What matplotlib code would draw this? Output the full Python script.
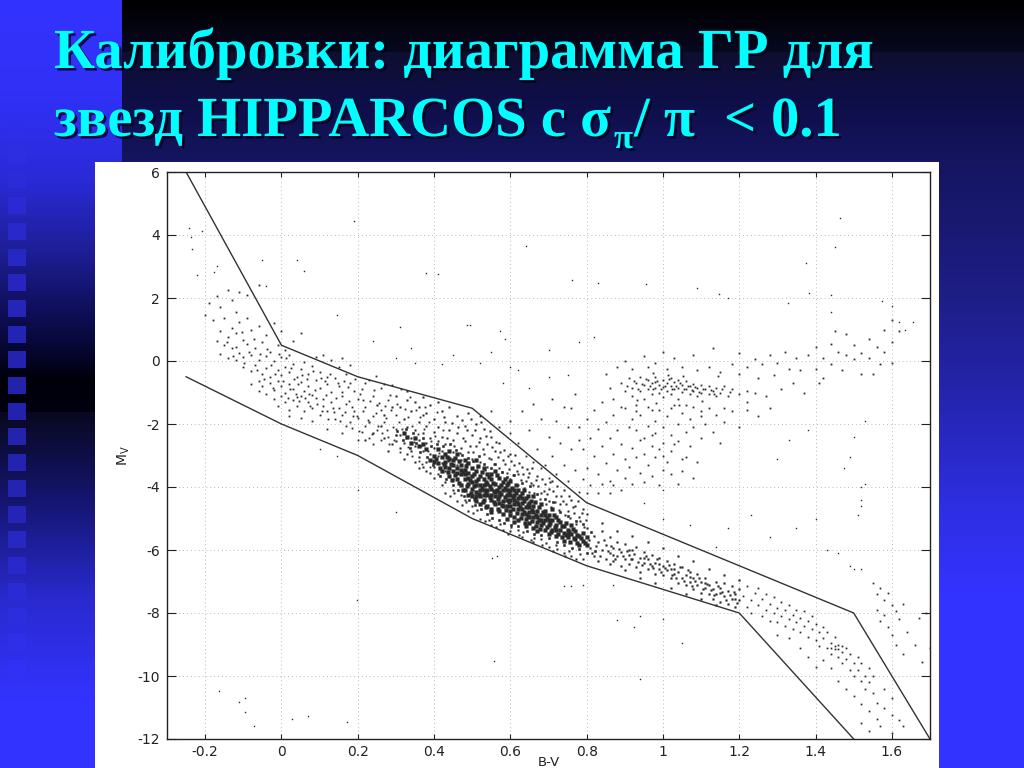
import numpy as np
import matplotlib
matplotlib.use('Agg')
import matplotlib.pyplot as plt
import matplotlib.patheffects as pe
from matplotlib.patches import Rectangle

plt.rcParams['axes.unicode_minus'] = False

# boundary lines of the selection
upper_x = [-0.25, 0, 0.2, 0.5, 0.8, 1.5, 1.7]
upper_y = [6, 0.5, -0.5, -1.5, -4.5, -8, -12]
lower_x = [-0.25, 0, 0.2, 0.5, 0.8, 1.2, 1.5]
lower_y = [-0.5, -2, -3, -5, -6.5, -8, -12]

x_ticks = [-0.2, 0, 0.2, 0.4, 0.6, 0.8, 1, 1.2, 1.4, 1.6]
x_tick_labels = ['-0.2', '0', '0.2', '0.4', '0.6', '0.8', '1', '1.2', '1.4', '1.6']
y_ticks = [6, 4, 2, 0, -2, -4, -6, -8, -10, -12]

# stars, by region
strays = [(-.243,4.22),(-.238,3.94),(-.209,4.13),(-.235,3.56),(-.222,2.73),(-.17,3.02),(-.177,2.83),(-.05,3.2),(.04,3.2),
    (.06,2.86),(-.04,2.38),(.19,4.44),(.145,1.46),(.31,1.08),(.38,2.79),(.41,2.76),(.487,1.14),(.495,1.15),(.573,.95),(.585,.7),
    (.64,3.65),(.762,2.57),(.83,2.47),(.955,2.44),(1.09,2.33),(1.148,2.12),(1.17,2.0),(1.374,3.1),(1.45,3.62),(1.464,4.54),
    (1.382,2.15),(1.44,2.1),(1.327,1.84),(1.44,1.55),(1.6,1.75),(1.575,1.9),(1.62,1.24),(1.655,1.24),(1.634,.99),
    (-.164,-10.48),(-.096,-10.7),(-.112,-10.83),(-.096,-11.15),(-.071,-11.6),(.027,-11.36),(.07,-11.27),(.171,-11.46),
    (.556,-9.53),(.2,-4.1),(.198,-7.58),(.3,-4.8),(.552,-6.26),(.565,-6.2),(.1,-2.8),(.145,-3.0),(1.05,-8.95),(.925,-8.45),
    (.94,-10.1),(.88,-8.22),(.74,-7.15),(.76,-7.15),(.79,-7.1),(.87,-7.1),(1.0,-8.2),(.94,-8.1),(1.49,-6.5),(1.5,-6.6),
    (1.49,-3.05),(1.475,-3.4),(1.518,-4.0),(1.53,-3.9),(1.52,-4.4),(1.518,-4.6),(1.51,-4.9),(1.3,-3.1),(1.23,-4.9),
    (1.35,-5.3),(1.4,-5.0),(1.17,-5.3),(1.0,-5.0),(.95,-4.5),(1.0,-4.1),(1.14,-5.9),(1.07,-5.2),(1.28,-5.6),(1.43,-6.0),
    (1.46,-6.1),(1.52,-6.6),(.34,.42),(.24,.62),(.3,.1),(.45,.2),(.55,.3),(.52,-.05),(.6,-.2),(.7,.35),(.78,.6),(.82,.75),
    (.7,-.5),(.65,-.85),(.58,-.7),(.35,-.05),(.42,-.1),(.62,-.3),(.75,-.45),(1.5,-2.4),(1.53,-1.9),(1.38,-2.2),(1.33,-2.5)]

hot_branch = [(-.19,1.85),(-.17,2.05),(-.16,1.7),(-.14,2.25),(-.13,1.95),(-.11,2.2),(-.09,2.1),(-.12,1.55),(-.06,2.4),(-.2,1.45),
    (-.18,1.3),(-.15,1.35),(-.13,1.05),(-.11,1.25),(-.09,1.38),(-.16,.95),(-.14,.75),(-.17,.62),(-.15,.5),(-.12,.88),(-.1,.68),
    (-.08,.98),(-.06,1.1),(-.04,.82),(-.02,1.22),(.0,.95),(-.13,.4),(-.11,.25),(-.09,.55),(-.07,.42),(-.05,.6),(-.03,.3),(-.01,.52),
    (.01,.35),(.03,.62),(.05,.9),(-.16,.22),(-.14,.08),(-.12,.02),(-.1,.14),(-.08,.2),(-.06,.04),(-.04,.15),(-.02,.0),(.0,.12),(.02,.2),
    (-.1,-.2),(-.08,-.32),(-.07,-.12),(-.05,-.4),(-.04,-.22),(-.03,-.5),(-.01,-.3),(.0,-.45),(.01,-.18),(.02,-.35),(.03,-.08),(.04,-.52),
    (.05,-.25),(.06,-.02),(.07,-.42),(.08,-.15),(.09,.12),(.1,-.35),(.11,.2),(.13,.02),(.15,-.18),(.12,-.5),(.16,.1),(.18,-.12),
    (-.06,-.62),(-.05,-.8),(-.03,-.7),(-.02,-.92),(-.01,-.65),(.0,-.8),(.01,-1.02),(.02,-.72),(.03,-.9),(.04,-1.15),(.05,-.68),(.06,-.95),
    (.07,-.78),(.08,-1.08),(.09,-.6),(.1,-.85),(.11,-1.2),(.12,-.72),(.13,-.98),(.14,-.55),(.15,-.8),(.16,-1.1),(.17,-.4),(.18,-.7),
    (.19,-.95),(-.04,-1.05),(-.02,-1.2),(-.01,-1.42),(.0,-1.12),(.01,-1.3),(.02,-1.55),(.03,-1.25),(.04,-1.42),(.05,-1.1),(.06,-1.6),
    (.07,-1.3),(.08,-1.5),(.09,-1.18),(.1,-1.72),(.11,-1.42),(.12,-1.6),(.13,-1.3),(.14,-1.85),(.15,-1.5),(.16,-1.7),(.17,-1.35),
    (.18,-1.95),(.19,-1.6),(.2,-1.8),(.2,-1.2),(.21,-.9),(.22,-2.05),(.22,-1.45),(.23,-.6),(.24,-1.75),(.24,-1.1),(.25,-2.2),(.26,-.85),
    (.26,-1.55),(.27,-1.95),(.28,-1.25),(.28,-2.4),(.29,-.75),(.3,-1.7),(.3,-2.15),(.02,-1.75),(.05,-1.82),(.08,-1.9),(.12,-2.15),
    (.16,-2.3),(.2,-2.5),(.24,-2.62),(.21,-2.25),(.26,-2.5),(-.08,-.72),(-.06,-.95),(.17,-2.05)]

hot_extra = [(-.143,.613),(-.127,.172),(-.118,.457),(-.104,.931),(-.097,-.053),(-.086,.296),(-.073,.687),(-.064,-.271),(-.057,.213),
    (-.046,-.583),(-.039,.378),(-.027,-.137),(-.018,-.417),(-.007,.223),(.004,-.633),(.013,.083),(.022,-.877),(.026,-.213),(.034,-.567),
    (.043,-.733),(.047,-1.283),(.055,-.437),(.063,-1.183),(.068,-.583),(.076,-1.437),(.083,-.333),(.087,-.923),(.094,-1.363),(.103,-.527),
    (.107,-1.573),(.116,-1.087),(.123,-1.833),(.127,-.417),(.134,-1.483),(.143,-1.187),(.147,-.683),(.153,-1.913),(.158,-.973),(.166,-1.623),
    (.174,-.827),(.177,-1.283),(.184,-2.137),(.186,-1.463),(.193,-.583),(.197,-1.743),(.203,-2.213),(.207,-1.037),(.214,-1.583),(.218,-.683),
    (.226,-1.887),(.233,-1.263),(.237,-2.327),(.243,-.933),(.247,-1.663),(.253,-2.053),(.257,-1.337),(.263,-2.287),(.268,-.723),(.274,-1.813),
    (.277,-2.183),(.284,-1.073),(.287,-1.563),(.292,-2.083),(.296,-2.513),(.303,-1.353),(.307,-1.927),(.313,-.887),(.316,-2.173),(.323,-1.533),
    (.327,-2.433),(.332,-1.767),(.337,-1.133),(.343,-2.063),(.347,-2.563),(.353,-1.543),(.357,-2.313),(.363,-1.783),(.367,-2.713),(.373,-2.163),
    (.377,-1.473),(.383,-2.853),(.387,-1.943),(.393,-2.533),(.397,-3.137),(.403,-2.383),(.407,-1.627),(.413,-2.933),(.417,-3.473),(.423,-2.183),
    (-.023,-.863),(.017,-1.183),(.039,-1.033),(.073,-1.033),(.113,-.623),(.137,-1.633),(.163,-.623),(.187,-1.733),(.213,-1.253),(.229,-2.433),
    (.249,-.483),(.271,-1.433),(.301,-2.363),(.331,-2.733),(.361,-3.163),(.281,-2.637),(.311,-2.883),(.341,-3.013),(.369,-3.263),(.389,-3.373)]

upper_ms = [(.3,-1.1),(.31,-1.45),(.31,-2.35),(.32,-1.85),(.32,-2.6),(.33,-.95),(.33,-2.1),(.34,-1.6),(.34,-2.45),(.34,-2.85),
    (.35,-1.3),(.35,-2.2),(.35,-2.7),(.36,-1.95),(.36,-2.5),(.36,-3.05),(.37,-1.15),(.37,-1.7),(.37,-2.3),(.37,-2.85),(.38,-2.05),
    (.38,-2.6),(.38,-3.2),(.39,-1.4),(.39,-2.45),(.39,-2.95),(.4,-1.85),(.4,-2.25),(.4,-2.75),(.4,-3.35),(.3,-2.55),(.31,-2.75),
    (.32,-3.1),(.33,-2.95),(.35,-3.2),(.37,-3.35),(.39,-3.55),(.3,-2.35),(.29,-2.65),(.28,-2.85),(.27,-2.45),(.26,-2.05),(.25,-1.4),
    (.24,-2.3),(.23,-1.95),(.22,-2.5),(.27,-1.7),(.29,-1.45),(.33,-1.25),(.36,-1.45),(.38,-1.65),(.41,-1.3),(.41,-2.1),(.41,-2.55),
    (.41,-3.0),(.41,-3.6),(.42,-1.6),(.42,-2.4),(.42,-2.85),(.42,-3.25),(.43,-1.95),(.43,-2.65),(.43,-3.5),(.43,-3.85),(.44,-1.45),
    (.44,-2.2),(.44,-3.05),(.45,-2.5),(.45,-2.9),(.45,-3.75),(.45,-4.1),(.46,-1.75),(.46,-2.3),(.46,-3.3),(.47,-2.75),(.47,-3.15),
    (.47,-4.25),(.48,-2.05),(.48,-2.55),(.48,-4.4),(.49,-1.65),(.49,-2.9),(.5,-2.35),(.5,-3.1),(.5,-4.6),(.51,-2.0),(.51,-2.7),
    (.52,-2.45),(.52,-3.2),(.53,-2.15),(.53,-2.95),(.54,-2.65),(.54,-3.35),(.55,-2.4),(.55,-3.1),(.56,-2.85),(.57,-2.6),(.57,-3.4),
    (.58,-3.15),(.59,-3.55),(.6,-2.95),(.6,-3.75),(.61,-3.3),(.62,-3.6),(.62,-3.95),(.63,-3.35),(.64,-3.8),(.65,-3.55),(.65,-4.15),
    (.66,-3.95),(.67,-3.65),(.68,-4.2),(.69,-3.9),(.7,-4.45),(.7,-4.05),(.71,-3.8),(.72,-4.3),(.73,-4.55),(.74,-4.1),(.75,-4.75),
    (.76,-4.4),(.77,-4.6),(.78,-4.95),(.79,-4.7),(.8,-4.85),(.43,-4.2),(.46,-4.45),(.49,-4.75),(.52,-5.0),(.55,-5.2),(.58,-5.35),
    (.42,-3.95),(.4,-3.7),(.38,-3.5),(.36,-3.4),(.6,-5.4),(.63,-5.6),(.66,-5.75),(.7,-5.9),(.74,-6.1),(.62,-5.35),(.68,-5.65),
    (.72,-5.85),(.76,-6.2),(.79,-6.3)]

upper_extra = [(.427,-1.783),(.433,-2.433),(.437,-3.183),(.447,-1.983),(.453,-2.683),(.457,-3.563),(.463,-2.083),(.467,-2.933),(.473,-1.883),
    (.477,-2.433),(.483,-3.283),(.487,-2.183),(.493,-2.683),(.497,-1.833),(.503,-2.883),(.507,-2.183),(.513,-3.373),(.517,-2.583),(.523,-1.933),
    (.527,-2.783),(.533,-3.463),(.537,-2.383),(.543,-3.083),(.547,-2.213),(.553,-2.733),(.557,-3.283),(.563,-2.583),(.567,-3.033),(.573,-2.883),
    (.577,-3.533),(.583,-2.833),(.587,-3.283),(.593,-3.013),(.597,-3.433),(.603,-3.183),(.607,-3.613),(.613,-2.983),(.617,-3.483),(.623,-3.233),
    (.627,-3.783),(.633,-3.583),(.637,-4.033),(.643,-3.433),(.647,-3.683),(.653,-3.883),(.657,-3.383),(.663,-4.183),(.667,-3.783),(.673,-3.983),
    (.677,-4.383),(.683,-3.733),(.687,-4.133),(.693,-4.533),(.697,-4.233),(.703,-3.833),(.707,-4.633),(.713,-4.133),(.717,-4.483),(.723,-3.983),
    (.727,-4.733),(.733,-4.283),(.737,-4.433),(.743,-4.883),(.747,-4.533),(.753,-4.283),(.757,-4.983),(.763,-4.633),(.767,-4.833),(.773,-5.183),
    (.777,-4.433),(.783,-5.083),(.787,-4.833),(.793,-5.283),(.797,-5.033),(.443,-4.283),(.473,-4.583),(.503,-4.833),(.533,-5.083),(.563,-5.283),
    (.593,-5.483),(.623,-5.533),(.653,-5.683),(.683,-5.833),(.713,-6.033),(.743,-6.183),(.773,-6.283),(.453,-4.183),(.483,-4.483),(.513,-4.733),
    (.543,-5.033),(.573,-5.183),(.603,-5.283),(.633,-5.433),(.663,-5.633),(.693,-5.783),(.723,-5.983),(.753,-6.033),(.783,-6.133)]

core = [(.4,-3.0),(.41,-3.25),(.42,-3.05),(.42,-3.5),(.43,-3.2),(.43,-2.95),(.44,-3.4),(.44,-3.65),(.44,-2.85),(.45,-3.15),(.45,-3.5),
    (.46,-3.75),(.46,-2.95),(.46,-3.4),(.47,-3.6),(.47,-3.95),(.47,-3.3),(.48,-3.15),(.48,-3.75),(.48,-4.1),(.48,-3.45),(.49,-3.55),
    (.49,-3.9),(.49,-4.25),(.49,-3.25),(.5,-3.65),(.5,-4.05),(.5,-3.4),(.5,-4.3),(.51,-3.8),(.51,-3.5),(.51,-4.15),(.51,-4.45),(.51,-3.15),
    (.52,-3.95),(.52,-3.65),(.52,-4.3),(.52,-4.55),(.53,-3.75),(.53,-4.1),(.53,-3.4),(.53,-4.4),(.54,-3.9),(.54,-4.25),(.54,-3.6),
    (.54,-4.6),(.55,-4.05),(.55,-3.75),(.55,-4.4),(.55,-4.7),(.56,-3.5),(.56,-4.15),(.56,-3.9),(.56,-4.55),(.57,-4.3),(.57,-3.7),
    (.57,-4.0),(.57,-4.75),(.58,-4.45),(.58,-4.1),(.58,-3.85),(.58,-4.85),(.59,-4.25),(.59,-4.6),(.59,-3.95),(.59,-5.0),(.6,-4.4),
    (.6,-4.1),(.6,-4.75),(.6,-3.8),(.61,-4.55),(.61,-4.25),(.61,-4.95),(.61,-5.1),(.62,-4.35),(.62,-4.7),(.62,-4.1),(.62,-5.05),
    (.63,-4.5),(.63,-4.85),(.63,-4.2),(.64,-4.65),(.64,-5.0),(.64,-4.35),(.64,-5.25),(.65,-4.8),(.65,-4.5),(.65,-5.15),(.66,-4.95),
    (.66,-4.6),(.66,-5.3),(.66,-4.3),(.67,-4.75),(.67,-5.1),(.67,-5.4),(.68,-4.9),(.68,-5.2),(.68,-4.55),(.69,-5.05),(.69,-5.35),
    (.69,-4.75),(.7,-5.2),(.7,-4.9),(.7,-5.5),(.71,-5.05),(.71,-5.35),(.71,-4.7),(.72,-5.2),(.72,-5.55),(.72,-4.95),(.73,-5.35),
    (.73,-5.1),(.74,-5.45),(.74,-5.25),(.74,-5.7),(.75,-5.35),(.75,-5.6),(.76,-5.5),(.76,-5.2),(.77,-5.65),(.77,-5.4),(.78,-5.55),
    (.78,-5.85),(.79,-5.7),(.79,-5.45),(.8,-5.85),(.8,-5.6),(.44,-3.1),(.45,-3.3),(.47,-3.45),(.48,-3.6),(.5,-3.85),(.52,-4.1),
    (.54,-4.1),(.56,-4.3),(.58,-4.6),(.6,-4.6),(.62,-4.55),(.64,-4.85),(.66,-4.8),(.46,-3.55),(.53,-3.95),(.55,-4.25),(.59,-4.4),
    (.61,-4.4),(.63,-4.7),(.65,-4.65),(.67,-4.95),(.69,-4.9),(.43,-3.35),(.49,-3.7),(.51,-3.95),(.57,-4.15),(.6,-4.25),(.65,-4.95),
    (.68,-5.05),(.7,-5.05),(.72,-5.35),(.75,-5.5),(.51,-4.3),(.53,-4.25),(.55,-3.6),(.57,-4.5),(.59,-4.1),(.61,-4.1),(.63,-4.35),
    (.38,-2.8),(.39,-3.15),(.37,-2.65),(.36,-2.7),(.35,-2.45),(.34,-2.6),(.33,-2.4),(.32,-2.3),(.41,-2.8),(.4,-3.2)]

core_extra = [(.405,-3.117),(.415,-3.383),(.425,-3.283),(.435,-3.033),(.436,-3.533),(.445,-3.283),(.447,-3.767),(.455,-3.633),(.456,-3.083),
    (.465,-3.183),(.466,-3.867),(.475,-3.533),(.476,-4.083),(.485,-3.333),(.486,-3.983),(.495,-3.783),(.496,-4.183),(.505,-3.583),(.506,-3.983),
    (.507,-4.383),(.515,-3.333),(.516,-3.733),(.517,-4.233),(.525,-3.533),(.526,-4.033),(.527,-4.483),(.535,-3.833),(.536,-4.183),(.537,-4.633),
    (.545,-3.683),(.546,-3.983),(.547,-4.333),(.548,-4.783),(.555,-3.883),(.556,-4.133),(.557,-4.483),(.565,-3.633),(.566,-4.083),(.567,-4.383),
    (.568,-4.683),(.575,-3.933),(.576,-4.233),(.577,-4.583),(.585,-3.733),(.586,-4.033),(.587,-4.333),(.588,-4.733),(.595,-3.883),(.596,-4.183),
    (.597,-4.483),(.598,-4.883),(.605,-4.033),(.606,-4.333),(.607,-4.683),(.615,-3.933),(.616,-4.183),(.617,-4.483),(.618,-4.833),(.625,-4.283),
    (.626,-4.633),(.627,-4.983),(.635,-4.083),(.636,-4.433),(.637,-4.783),(.638,-5.133),(.645,-4.283),(.646,-4.583),(.647,-4.933),(.655,-4.433),
    (.656,-4.733),(.657,-5.083),(.665,-4.483),(.666,-4.883),(.667,-5.233),(.675,-4.633),(.676,-5.033),(.677,-5.333),(.685,-4.783),(.686,-5.133),
    (.695,-4.983),(.696,-5.283),(.705,-5.133),(.706,-5.433),(.715,-4.883),(.716,-5.283),(.725,-5.033),(.726,-5.483),(.735,-5.233),(.736,-5.583),
    (.745,-5.133),(.746,-5.533),(.755,-5.433),(.756,-5.733),(.765,-5.333),(.766,-5.633),(.775,-5.533),(.776,-5.783),(.785,-5.633),(.795,-5.783)]

# looser edge of the dense band, above and below the ridge
core_edge = [(.303,-2.233),(.318,-2.513),(.326,-2.167),(.338,-2.747),(.344,-2.287),(.352,-2.613),(.364,-2.893),(.372,-2.447),(.381,-3.053),
    (.392,-2.693),(.398,-3.287),(.409,-2.637),(.416,-3.653),(.424,-2.703),(.431,-3.733),(.441,-2.633),(.449,-3.927),(.458,-2.813),(.462,-4.103),
    (.472,-2.983),(.479,-4.283),(.488,-3.083),(.491,-4.403),(.501,-3.183),(.508,-4.583),(.519,-3.013),(.523,-4.693),(.531,-3.283),(.539,-4.853),
    (.549,-3.383),(.553,-4.973),(.561,-3.283),(.569,-5.033),(.579,-3.533),(.583,-5.133),(.591,-3.683),(.601,-5.193),(.609,-3.633),(.621,-5.253),
    (.631,-3.883),(.643,-5.383),(.651,-3.983),(.661,-5.483),(.671,-4.233),(.681,-5.533),(.691,-4.383),(.701,-5.633),(.711,-4.483),(.721,-5.733),
    (.731,-4.783),(.741,-5.833),(.751,-4.933),(.761,-5.933),(.771,-5.083),(.781,-5.983),(.791,-5.183),(.801,-6.083),(.811,-5.433),(.821,-6.033)]

cool_ms = [(.8,-5.3),(.81,-5.95),(.82,-5.55),(.82,-6.2),(.83,-5.75),(.84,-6.0),(.84,-5.4),(.85,-6.3),(.85,-5.85),(.86,-6.1),(.86,-5.6),
    (.87,-6.35),(.87,-5.95),(.88,-6.2),(.88,-5.75),(.89,-6.05),(.89,-6.5),(.9,-6.3),(.9,-5.8),(.91,-6.15),(.91,-6.45),(.92,-6.0),
    (.92,-6.3),(.93,-6.55),(.93,-5.9),(.94,-6.25),(.94,-6.7),(.95,-6.4),(.95,-6.05),(.96,-6.6),(.96,-6.3),(.97,-6.5),(.97,-6.15),
    (.98,-6.75),(.98,-6.4),(.99,-6.6),(.99,-6.25),(1.0,-6.8),(1.0,-6.5),(1.01,-6.65),(1.01,-6.35),(1.02,-6.9),(1.02,-6.6),(1.03,-6.75),
    (1.03,-6.45),(1.04,-7.05),(1.04,-6.7),(1.05,-6.9),(1.05,-6.55),(1.06,-7.1),(1.06,-6.8),(1.07,-7.0),(1.07,-6.7),(1.08,-7.25),
    (1.08,-6.9),(1.09,-7.1),(1.09,-6.75),(1.1,-7.35),(1.1,-7.0),(1.11,-7.2),(1.11,-6.9),(1.12,-7.4),(1.12,-7.1),(1.13,-7.55),
    (1.13,-7.25),(1.14,-7.0),(1.14,-7.4),(1.15,-7.65),(1.15,-7.2),(1.16,-7.45),(1.16,-7.05),(1.17,-7.7),(1.17,-7.3),(1.18,-7.55),
    (1.18,-7.15),(1.19,-7.8),(1.19,-7.4),(1.2,-7.6),(1.2,-7.25),(.83,-6.35),(.86,-6.45),(.9,-6.65),(.94,-6.9),(.98,-7.05),(1.02,-7.2),
    (1.06,-7.4),(1.1,-7.55),(1.14,-7.75),(.84,-5.15),(.88,-5.4),(.92,-5.55),(.96,-5.75),(1.0,-5.95),(1.04,-6.2),(1.08,-6.35),(1.12,-6.6),
    (1.16,-6.8),(1.2,-6.95),(.87,-6.15),(.91,-6.0),(.95,-6.25),(.99,-6.45),(1.03,-6.6),(1.07,-6.85),(1.11,-7.05),(1.15,-7.35),(1.19,-7.55),
    (.805,-5.683),(.815,-6.083),(.825,-5.883),(.835,-6.183),(.845,-5.683),(.855,-6.033),(.865,-5.883),(.875,-6.283),(.885,-5.983),(.895,-6.183),
    (.905,-6.033),(.915,-6.283),(.925,-6.133),(.935,-6.383),(.945,-6.483),(.955,-6.183),(.965,-6.433),(.975,-6.583),(.985,-6.283),(.995,-6.683),
    (1.005,-6.583),(1.015,-6.483),(1.025,-6.783),(1.035,-6.883),(1.045,-6.533),(1.055,-6.983),(1.065,-6.633),(1.075,-7.133),(1.085,-6.983),
    (1.095,-6.883),(1.105,-7.233),(1.115,-7.083),(1.125,-7.283),(1.135,-7.433),(1.145,-7.133),(1.155,-7.333),(1.165,-7.583),(1.175,-7.433),
    (1.185,-7.333),(1.195,-7.683)]

cool_dwarfs = [(1.21,-7.45),(1.22,-7.8),(1.22,-7.15),(1.23,-7.6),(1.23,-8.0),(1.24,-7.35),(1.25,-7.75),(1.25,-7.2),(1.26,-8.1),(1.26,-7.55),
    (1.27,-7.9),(1.27,-7.4),(1.28,-7.7),(1.28,-8.25),(1.29,-8.0),(1.29,-7.5),(1.3,-7.85),(1.3,-8.3),(1.31,-8.1),(1.31,-7.65),(1.32,-8.4),
    (1.32,-7.9),(1.33,-8.2),(1.33,-7.75),(1.34,-8.5),(1.34,-8.05),(1.35,-8.3),(1.35,-7.9),(1.36,-8.6),(1.36,-8.15),(1.37,-8.4),(1.37,-7.95),
    (1.38,-8.75),(1.38,-8.25),(1.39,-8.5),(1.39,-8.1),(1.4,-8.85),(1.4,-8.35),(1.41,-8.6),(1.41,-9.05),(1.42,-8.45),(1.42,-8.8),(1.43,-9.1),
    (1.43,-8.6),(1.44,-8.95),(1.44,-9.3),(1.45,-8.75),(1.45,-9.15),(1.46,-9.4),(1.46,-9.0),(1.47,-9.25),(1.47,-9.6),(1.48,-9.1),(1.48,-9.45),
    (1.49,-9.8),(1.49,-9.3),(1.5,-9.6),(1.5,-10.0),(1.51,-9.4),(1.51,-9.8),(1.52,-10.15),(1.52,-9.6),(1.53,-10.0),(1.53,-10.4),(1.54,-9.75),
    (1.54,-10.2),(1.55,-10.55),(1.55,-10.0),(1.42,-9.5),(1.44,-9.75),(1.46,-10.15),(1.48,-10.4),(1.5,-10.65),(1.52,-10.9),(1.54,-11.1),
    (1.56,-10.85),(1.56,-11.35),(1.58,-11.0),(1.58,-10.4),(1.6,-11.25),(1.6,-10.7),(1.62,-11.4),(1.52,-11.5),(1.54,-11.75),(1.57,-11.6),
    (1.6,-11.8),(1.63,-11.6),(1.38,-9.4),(1.36,-9.1),(1.33,-8.8),(1.3,-8.7),(1.4,-9.7),(1.44,-9.1),(1.45,-9.05),(1.46,-9.15),(1.47,-9.05),
    (1.55,-7.05),(1.56,-7.4),(1.56,-7.9),(1.57,-7.2),(1.57,-8.25),(1.58,-7.6),(1.58,-8.05),(1.59,-7.35),(1.59,-8.45),(1.6,-7.75),(1.6,-8.7),
    (1.61,-7.95),(1.61,-9.0),(1.62,-8.2),(1.63,-7.7),(1.63,-9.3),(1.64,-8.6),(1.66,-9.0),(1.67,-8.15),(1.68,-9.55),(1.7,-9.1),(1.69,-8.0)]

giants = [(.89,-.7),(.9,-.95),(.91,-.55),(.92,-.85),(.92,-1.1),(.93,-.7),(.94,-.5),(.94,-.95),(.95,-.75),(.95,-1.2),(.96,-.6),(.96,-.9),
    (.97,-.7),(.97,-1.05),(.98,-.5),(.98,-.85),(.98,-.68),(.99,-.75),(.99,-1.0),(1.0,-.6),(1.0,-.82),(1.0,-1.15),(1.01,-.7),(1.01,-.95),
    (1.02,-.55),(1.02,-.78),(1.02,-1.05),(1.03,-.68),(1.03,-.9),(1.04,-.6),(1.04,-.85),(1.04,-1.2),(1.05,-.75),(1.05,-.98),(1.06,-.65),
    (1.06,-.88),(1.07,-.8),(1.07,-1.05),(1.08,-.72),(1.08,-.95),(1.09,-.85),(1.09,-1.1),(1.1,-.75),(1.1,-1.0),(1.11,-.9),(1.12,-1.05),
    (1.12,-.8),(1.13,-.95),(1.14,-1.1),(1.14,-.85),(1.15,-1.0),(1.16,-.78),(1.17,-1.1),(1.18,-.9),(1.2,-1.05),(1.22,-.95),(1.24,-1.0),
    (.85,-.4),(.86,-.85),(.87,-1.2),(.88,-.2),(.9,.0),(.92,-.25),(.93,-1.4),(.95,.15),(.96,-.2),(.97,-1.55),(.98,-.05),(1.0,.3),(1.01,-.25),
    (1.02,-1.5),(1.03,.1),(1.05,-.2),(1.06,-1.4),(1.08,.2),(1.09,-.3),(1.1,-1.6),(1.12,-.2),(1.13,.4),(1.15,-.35),(1.16,-1.5),(1.18,-.1),
    (1.2,.25),(1.2,-.4),(1.22,-.2),(1.22,-1.3),(1.24,.05),(1.25,-.55),(1.26,-.1),(1.27,-1.1),(1.28,.2),(1.29,-.45),(1.3,-.05),(1.31,-.9),
    (1.32,.3),(1.33,-.25),(1.34,-.7),(1.35,.1),(1.36,-.3),(1.37,-1.0),(1.38,.2),(1.4,.45),(1.4,-.25),(1.42,.1),(1.42,-.55),(1.44,.55),(1.44,-.1),
    (1.46,.3),(1.47,-.3),(1.48,.85),(1.5,.5),(1.5,.05),(1.52,.25),(1.52,-.4),(1.54,.7),(1.54,.1),(1.56,.45),(1.57,-.1),(1.58,1.0),(1.58,.3),
    (1.6,.6),(1.6,-.05),(1.6,1.3),(1.62,.95),(1.45,.95),(1.48,.2),(1.41,-.7),(1.55,-.4),
    (.9,-1.5),(.92,-1.85),(.93,-2.2),(.94,-1.7),(.95,-2.45),(.96,-2.05),(.96,-1.45),(.97,-2.7),(.98,-1.9),(.98,-2.3),(.99,-1.55),(1.0,-2.1),
    (1.0,-2.6),(1.0,-3.0),(1.01,-1.75),(1.02,-2.35),(1.02,-2.85),(1.03,-1.4),(1.04,-2.0),(1.04,-2.55),(1.05,-1.65),(1.05,-3.1),(1.06,-2.25),
    (1.07,-1.85),(1.07,-2.7),(1.08,-1.45),(1.08,-2.1),(1.09,-3.2),(1.1,-1.75),(1.1,-2.45),(1.11,-2.0),(1.12,-1.5),(1.13,-2.25),(1.14,-1.7),
    (1.15,-2.6),(1.16,-1.95),(1.18,-1.6),(1.2,-2.1),(1.22,-1.55),(1.25,-1.75),(1.28,-1.5),
    (.76,-1.5),(.78,-2.1),(.79,-2.8),(.8,-1.85),(.8,-3.4),(.81,-2.45),(.82,-3.0),(.82,-1.55),(.83,-2.15),(.83,-3.6),(.84,-2.7),(.84,-1.3),
    (.85,-1.95),(.85,-3.25),(.86,-2.45),(.86,-3.8),(.87,-1.7),(.87,-2.95),(.88,-2.2),(.88,-3.45),(.89,-1.45),(.89,-2.65),(.9,-3.1),(.9,-3.7),
    (.91,-2.1),(.91,-3.35),(.92,-2.75),(.92,-3.9),(.93,-1.6),(.93,-3.05),(.94,-2.5),(.94,-3.55),(.95,-2.95),(.95,-3.85),(.96,-3.3),(.97,-2.35),
    (.97,-3.65),(.98,-3.05),(.99,-3.95),(.99,-2.8),(1.0,-3.45),(1.01,-3.2),(1.02,-3.6),(1.03,-2.65),(1.04,-3.9),(1.05,-3.5),(1.06,-3.05),(1.08,-3.7),
    (.6,-1.9),(.62,-2.6),(.63,-1.6),(.64,-3.0),(.65,-2.2),(.66,-1.35),(.67,-2.8),(.68,-1.85),(.69,-3.3),(.7,-2.4),(.71,-1.2),(.71,-3.0),(.72,-1.9),
    (.72,-3.6),(.73,-2.6),(.74,-1.45),(.74,-3.3),(.75,-2.1),(.75,-3.8),(.76,-2.8),(.77,-1.05),(.77,-3.45),(.78,-4.15),(.78,-2.5),(.79,-3.75),
    (.8,-4.2),(.81,-3.95),(.83,-4.2),(.84,-3.9),(.86,-4.2),(.87,-3.95),(.89,-4.1),(.7,-3.7),(.68,-3.4),(.66,-3.2),(.6,-2.3),(.55,-1.6),(.57,-2.1),(.52,-1.75),
    (.905,-.783),(.925,-.633),(.935,-.883),(.945,-.733),(.955,-.583),(.965,-.783),(.975,-.883),(.985,-.633),(.995,-.883),(1.005,-.783),(1.015,-.583),
    (1.025,-.883),(1.035,-.783),(1.045,-.683),(1.055,-.883),(1.065,-.783),(1.075,-.933),(1.085,-.833),(1.095,-.983),(1.105,-.883),(1.125,-.933),
    (1.135,-1.033),(1.155,-.883),(1.175,-.983),(.973,-.383),(1.013,-.433),(1.053,-.483),(.933,-1.233),(.983,-1.333),(1.043,-1.383),(1.103,-1.283),(1.143,-.483)]

fig = plt.figure(figsize=(10.24, 7.68), dpi=100)

# slide background
bg = fig.add_axes([0, 0, 1, 1])
rows = np.arange(768)
left_stops = [0, 100, 180, 250, 300, 350, 380, 411, 412, 500, 600, 700, 768]
left_r = [51, 48, 42, 30, 17, 6, 0, 0, 8, 21, 42, 51, 51]
left_b = [255, 245, 215, 150, 100, 48, 10, 16, 32, 112, 208, 255, 255]
right_stops = [0, 51, 52, 100, 160, 300, 400, 500, 590, 768]
right_r = [0, 8, 14, 14, 21, 30, 37, 46, 51, 51]
right_b = [0, 32, 48, 72, 96, 136, 176, 224, 255, 255]
img = np.zeros((768, 1024, 3))
for col, r, b in [(slice(0, 122), left_r, left_b), (slice(122, 1024), right_r, right_b)]:
    stops = left_stops if col.start == 0 else right_stops
    red = np.interp(rows, stops, r) / 255
    img[:, col, 0] = red[:, None]
    img[:, col, 1] = red[:, None]
    img[:, col, 2] = (np.interp(rows, stops, b) / 255)[:, None]
bg.imshow(img, extent=[0, 1024, 768, 0], aspect='auto', interpolation='nearest')
bg.set_xlim(0, 1024)
bg.set_ylim(768, 0)
bg.axis('off')

# column of small squares on the strip
for i in range(22):
    top = 120 + i * 25.7
    b = np.interp(top, [120, 250, 380, 500, 660], [232, 195, 170, 180, 245])
    r = b * 0.2
    bg.add_patch(Rectangle((8.3, top), 17.2, 17, facecolor=(r / 255, r / 255, b / 255), edgecolor='none'))

bg.add_patch(Rectangle((95, 162), 844, 606, facecolor='white', edgecolor='none'))

# title
title_font = dict(family='Liberation Serif', weight='bold', color='#00ffff', size=40.8, va='baseline',
                  path_effects=[pe.withSimplePatchShadow(offset=(1.8, -1.8), shadow_rgbFace='#000018', alpha=0.8)])
bg.text(54, 68, 'Калибровки: диаграмма ГР для', **title_font)
bg.text(54, 136, 'звезд HIPPARCOS с σ', **title_font)
bg.text(614, 148, 'π', **{**title_font, 'size': 25})
bg.text(634, 136, '/ π', **title_font)
bg.text(724, 136, '<', **title_font)
bg.text(771, 136, '0.1', **title_font)

# the chart itself
ax = fig.add_axes([167 / 1024, 1 - 739 / 768, 763 / 1024, 567 / 768])
ax.set_facecolor('white')
ax.set_xlim(-0.3, 1.7)
ax.set_ylim(-12, 6)
ax.grid(True, linestyle=(0, (1, 3)), color='#b8b8b8', linewidth=0.7)
ax.set_axisbelow(True)

for pts, size in [(strays, 1.0), (hot_branch, 1.7), (hot_extra, 1.7), (upper_ms, 2.2), (upper_extra, 2.2), (giants, 1.7),
                  (cool_ms, 2.4), (cool_dwarfs, 1.6), (core_edge, 3.5), (core, 9), (core_extra, 9)]:
    xs, ys = zip(*pts)
    ax.scatter(xs, ys, s=size, c='#2a2a2a', marker='s', linewidths=0, snap=False)

ax.plot(upper_x, upper_y, color='#333333', linewidth=1.0)
ax.plot(lower_x, lower_y, color='#333333', linewidth=1.0)

ax.set_xticks(x_ticks)
ax.set_xticklabels(x_tick_labels)
ax.set_yticks(y_ticks)
ax.tick_params(axis='x', direction='in', length=3.6, width=0.8, top=True, pad=4, labelsize=10, colors='#222222')
ax.tick_params(axis='y', direction='in', length=6.5, width=0.8, right=True, pad=5, labelsize=10, colors='#222222')
for side in ax.spines.values():
    side.set_color('#222222')
    side.set_linewidth(1.0)
ax.set_xlabel('B-V', fontsize=9.5, color='#222222', labelpad=-2)
ax.set_ylabel('M$_{\\mathrm{V}}$', fontsize=10, color='#222222', labelpad=4)

fig.savefig('out.png', dpi=100)
